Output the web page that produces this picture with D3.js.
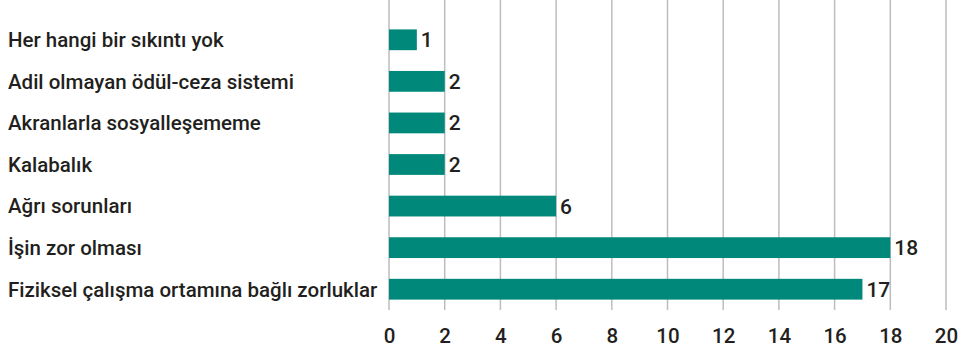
<!DOCTYPE html>
<html>
<head>
<meta charset="utf-8">
<script src="https://cdn.jsdelivr.net/npm/d3@7/dist/d3.min.js"></script>
<style>
  html, body { margin: 0; padding: 0; background: #fff; }
  svg { display: block; }
  text { font-family: Roboto, "Open Sans", sans-serif; fill: #231f20; }
</style>
</head>
<body>
<svg id="chart" width="965" height="350"></svg>
<script>
// Survey answers, top to bottom
const categories = [
  "Her hangi bir sıkıntı yok",
  "Adil olmayan ödül-ceza sistemi",
  "Akranlarla sosyalleşememe",
  "Kalabalık",
  "Ağrı sorunları",
  "İşin zor olması",
  "Fiziksel çalışma ortamına bağlı zorluklar"
];
const values = [1, 2, 2, 2, 6, 18, 17];
const tickValues = [0, 2, 4, 6, 8, 10, 12, 14, 16, 18, 20];

const svg = d3.select("#chart");
const left = 389, right = 946;
const gridTop = 0, gridBottom = 310;

const x = d3.scaleLinear().domain([0, 20]).range([left, right]);
const y = d3.scaleBand()
  .domain(categories)
  .range([19, 310])
  .paddingInner(0.5)
  .paddingOuter(0.25);

// vertical gridlines
svg.append("g")
  .selectAll("line")
  .data(tickValues)
  .join("line")
  .attr("x1", d => x(d)).attr("x2", d => x(d))
  .attr("y1", gridTop).attr("y2", gridBottom)
  .attr("stroke", "#bdbdbd")
  .attr("stroke-width", 1.5);

// x axis labels
const xAxis = d3.axisBottom(x).tickValues(tickValues).tickSize(0).tickPadding(0);
const gx = svg.append("g").attr("transform", "translate(0, 343)").call(xAxis);
gx.select(".domain").remove();
gx.selectAll("text")
  .attr("y", 0)
  .attr("dy", "0")
  .style("font-size", "20.5px")
  .style("font-weight", "500")
  .style("font-family", "Roboto, sans-serif")
  .attr("fill", "#231f20");

// bars
svg.append("g")
  .selectAll("rect")
  .data(values)
  .join("rect")
  .attr("x", x(0))
  .attr("y", (d, i) => y(categories[i]))
  .attr("width", d => x(d) - x(0))
  .attr("height", y.bandwidth())
  .attr("fill", "#00897b");

// value labels
svg.append("g")
  .selectAll("text")
  .data(values)
  .join("text")
  .attr("x", d => x(d) + 4)
  .attr("y", (d, i) => y(categories[i]) + y.bandwidth() / 2)
  .attr("dy", "0.36em")
  .style("font-size", "21px")
  .style("font-weight", "500")
  .text(d => d);

// category labels
svg.append("g")
  .selectAll("text")
  .data(categories)
  .join("text")
  .attr("x", 8)
  .attr("y", d => y(d) + y.bandwidth() / 2)
  .attr("dy", "0.36em")
  .style("font-size", "20.5px")
  .style("font-weight", "500")
  .text(d => d);
</script>
</body>
</html>
